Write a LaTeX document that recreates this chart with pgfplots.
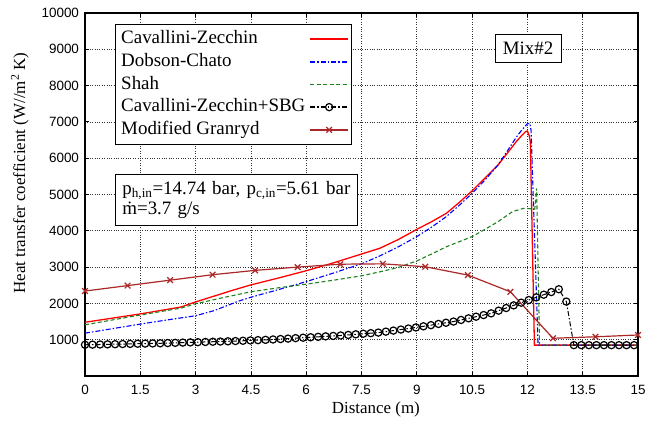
\documentclass[border=0pt]{standalone}
\usepackage{fontspec}
\setmainfont{Liberation Serif}
\newfontfamily\arial{Liberation Sans}
\usepackage{pgfplots}
\pgfplotsset{compat=1.18}
\definecolor{czred}{RGB}{255,0,0}
\definecolor{dcblue}{RGB}{0,0,255}
\definecolor{shgreen}{RGB}{30,130,30}
\definecolor{grbrown}{RGB}{170,40,40}
\tikzset{
  czstyle/.style={draw=czred, line width=1.3bp},
  dcstyle/.style={draw=dcblue, line width=1.1bp, dash pattern=on 5bp off 2bp on 1.5bp off 2bp},
  shstyle/.style={draw=shgreen, line width=1.1bp, dash pattern=on 4bp off 2.5bp},
  sbgstyle/.style={draw=black, line width=1bp, dash pattern=on 5bp off 2bp on 1.5bp off 2bp, mark=o, mark size=3.6bp,
    mark options={solid, draw=black, line width=1.2bp}},
  grstyle/.style={draw=grbrown, line width=1.2bp, mark=x, mark size=4bp, mark options={solid, draw=grbrown, line width=1.2bp}},
}
\begin{document}
\begin{tikzpicture}
\begin{axis}[
  name=ax,
  scale only axis,
  width=553bp, height=363bp,
  xmin=0, xmax=15, ymin=0, ymax=10000,
  scaled x ticks=false, scaled y ticks=false,
  xtick={0,1.5,3,4.5,6,7.5,9,10.5,12,13.5,15},
  xticklabels={0,1.5,3,4.5,6,7.5,9,10.5,12,13.5,15},
  ytick={1000,2000,3000,4000,5000,6000,7000,8000,9000,10000},
  yticklabels={1000,2000,3000,4000,5000,6000,7000,8000,9000,10000},
  tick label style={font=\arial\fontsize{13.5}{15}\selectfont},
  xticklabel style={yshift=-5.5bp},
  yticklabel style={xshift=-2.5bp},
  major tick length=4.5bp,
  tick style={black, line width=0.8bp},
  axis line style={black, line width=1.2bp},
  grid=major,
  grid style={dotted, black!80, line width=0.7bp},
  every axis x label/.style={at={(axis description cs:0.526,0)}, yshift=-33bp, anchor=center},
  every axis y label/.style={at={(axis description cs:0,0.559)}, xshift=-65bp, rotate=90, anchor=center},
  label style={font=\fontsize{17}{19}\selectfont},
  xlabel={Distance (m)},
  ylabel={Heat transfer coefficient (W//m\textsuperscript{2} K)},
  legend plot pos=right,
  legend cell align=left,
  legend image code/.code={\draw[mark repeat=2,mark phase=2,#1] plot coordinates {(0bp,0bp) (19bp,0bp) (38bp,0bp)};},
  legend image post style={line width=1.6bp},
  legend style={at={(0.0543,0.9697)}, anchor=north west, draw=black, fill=white,
    inner xsep=2bp, inner ysep=3.5bp, font=\fontsize{19}{22}\selectfont,
    nodes={inner xsep=4bp, inner ysep=1.6bp, text height=14.5bp, text depth=5bp},
    column sep=0bp, row sep=0bp},
]
\addlegendimage{czstyle}
\addlegendentry{Cavallini-Zecchin}
\addlegendimage{dcstyle}
\addlegendentry{Dobson-Chato}
\addlegendimage{shstyle}
\addlegendentry{Shah}
\addlegendimage{sbgstyle}
\addlegendentry{Cavallini-Zecchin+SBG}
\addlegendimage{grstyle}
\addlegendentry{Modified Granryd}
\addplot[czstyle, forget plot] coordinates {
(0,1480) (0.75,1595) (1.5,1710) (2.2,1830) (2.6,1900) (3.0,2040) (3.5,2200) (4.0,2360) (4.5,2510)
(5.25,2700) (6,2900) (6.75,3120) (7.5,3360) (8,3520) (8.5,3760) (9,4040) (9.4,4250) (9.8,4480)
(10.15,4780) (10.5,5100) (10.85,5450) (11.2,5810) (11.45,6130) (11.7,6460) (11.85,6630) (11.95,6730) (12.0,6750)
(12.05,6620) (12.08,6450) (12.19,850) (15,850)};
\addplot[dcstyle, forget plot] coordinates {
(0,1180) (0.75,1305) (1.5,1430) (2.2,1540) (3.0,1660) (3.5,1800) (4.16,2060) (4.5,2170)
(5.25,2380) (6,2600) (6.75,2840) (7.5,3090) (8,3310) (8.5,3560) (9,3840) (9.4,4100) (9.8,4390)
(10.15,4700) (10.5,5030) (10.85,5400) (11.2,5810) (11.45,6190) (11.7,6580) (11.85,6780) (12.0,6950) (12.07,6960)
(12.1,6750) (12.29,850) (15,850)};
\addplot[shstyle, forget plot] coordinates {
(0,1410) (0.75,1545) (1.5,1680) (2.2,1800) (2.6,1870) (3,1990) (3.75,2160) (4.5,2320) (5.25,2430)
(6,2530) (6.75,2640) (7.5,2760) (8,2870) (8.5,2990) (9,3170) (9.4,3360) (9.8,3560) (10.15,3700)
(10.5,3840) (10.85,4040) (11.2,4250) (11.6,4530) (11.9,4620) (12.2,4600) (12.25,5170) (12.33,850) (15,850)};
\addplot[sbgstyle, forget plot] coordinates {
(0,860) (0.204,864) (0.408,868) (0.612,872) (0.816,876) (1.02,880) (1.224,884) (1.428,889)
(1.632,893) (1.836,897) (2.04,901) (2.244,907) (2.448,913) (2.652,920) (2.856,926) (3.06,932)
(3.264,938) (3.468,944) (3.672,950) (3.876,956) (4.08,963) (4.284,971) (4.488,980) (4.692,988)
(4.896,996) (5.1,1006) (5.304,1018) (5.508,1030) (5.712,1043) (5.916,1055) (6.12,1067) (6.324,1079)
(6.528,1092) (6.732,1104) (6.936,1116) (7.14,1131) (7.344,1148) (7.548,1164) (7.752,1180) (7.956,1196)
(8.16,1222) (8.364,1251) (8.568,1280) (8.772,1308) (8.976,1337) (9.18,1369) (9.384,1401) (9.588,1434)
(9.792,1467) (9.996,1500) (10.2,1544) (10.404,1589) (10.608,1634) (10.812,1679) (11.016,1726) (11.22,1800)
(11.424,1873) (11.628,1946) (11.832,2020) (12.036,2093) (12.24,2166) (12.444,2240) (12.648,2313) (12.852,2390)
(13.056,2050) (13.26,850) (13.464,850) (13.668,850) (13.872,850) (14.076,850) (14.28,850) (14.484,850)
(14.688,850) (14.892,850)};
\addplot[grstyle, forget plot] coordinates {
(0,2340) (1.1538,2490) (2.3077,2640) (3.4615,2790) (4.6154,2910) (5.7692,3000) (6.9231,3080)
(8.0769,3090) (9.2308,3010) (10.3846,2780) (11.5385,2320) (12.6923,1040) (13.8462,1080) (15,1130)};
\node[draw=black, line width=0.7bp, fill=white, anchor=north west, align=left, text width=228bp,
  inner xsep=7bp, inner ysep=7bp, font=\fontsize{19}{20}\selectfont] at (axis cs:0.814,5565)
  {p\textsubscript{h,in}=14.74 bar, p\textsubscript{c,in}=5.61 bar\\\.{m}=3.7 g/s};
\node[draw=black, line width=0.7bp, fill=white, inner xsep=7.5bp, inner ysep=7.5bp, text height=13bp, text depth=0.5bp,
  font=\fontsize{19}{20}\selectfont] at (axis cs:12.02,9030) {Mix\#2};
\end{axis}
\pgfresetboundingbox
\path (ax.south west) ++(-85bp,-46bp) rectangle ++(665bp,422bp);
\end{tikzpicture}
\end{document}
